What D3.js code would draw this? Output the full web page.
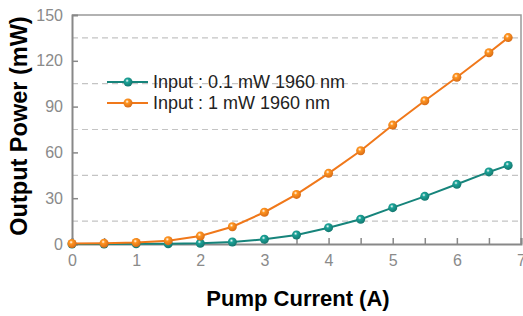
<!DOCTYPE html>
<html>
<head>
<meta charset="utf-8">
<script src="https://cdn.jsdelivr.net/npm/d3@7"></script>
<style>
  body { margin: 0; background: #fff; }
  text { font-family: "Liberation Sans", Arial, sans-serif; }
</style>
</head>
<body>
<div id="chart"></div>
<script>
const current = [0, 0.5, 1, 1.5, 2, 2.5, 3, 3.5, 4, 4.5, 5, 5.5, 6, 6.5, 6.8];
const lowInput = [0, 0, 0.1, 0.2, 0.5, 1.3, 3.1, 5.9, 10.7, 16.2, 23.8, 31.2, 39.1, 47.2, 51.5];
const highInput = [0.3, 0.5, 1, 2.2, 5.2, 11.3, 20.8, 32.5, 46.3, 61.1, 77.9, 93.8, 109.2, 125.3, 135.2];
const seriesNames = ['Input : 0.1 mW 1960 nm', 'Input : 1 mW 1960 nm'];
const seriesColors = ['#16847b', '#f0781a'];
const xTicks = [0, 1, 2, 3, 4, 5, 6, 7];
const yTicks = [0, 30, 60, 90, 120, 150];
const gridLines = [15, 45, 75, 105, 135];

const W = 523, H = 316;
const margin = { top: 15, right: 2, bottom: 72, left: 72 };
const width = W - margin.left - margin.right;
const height = H - margin.top - margin.bottom;

const svg = d3.select('#chart').append('svg')
  .attr('width', W).attr('height', H);

const defs = svg.append('defs');
seriesColors.forEach((c, i) => {
  const g = defs.append('radialGradient').attr('id', 'ball' + i)
    .attr('cx', '40%').attr('cy', '35%').attr('r', '65%');
  g.append('stop').attr('offset', '0%').attr('stop-color', '#ffffff');
  g.append('stop').attr('offset', '30%').attr('stop-color', d3.color(c).brighter(0.6));
  g.append('stop').attr('offset', '100%').attr('stop-color', d3.color(c).darker(0.3));
});

const g = svg.append('g')
  .attr('transform', 'translate(' + margin.left + ',' + margin.top + ')');

const x = d3.scaleLinear().domain([0, 7]).range([0, width]);
const y = d3.scaleLinear().domain([0, 150]).range([height, 0]);

// dashed grid
g.selectAll('.grid').data(gridLines).enter().append('line')
  .attr('x1', 0).attr('x2', width)
  .attr('y1', d => y(d)).attr('y2', d => y(d))
  .attr('stroke', '#c4c4c4').attr('stroke-width', 1.2)
  .attr('stroke-dasharray', '6,4');

// frame
g.append('path')
  .attr('d', 'M0,0H' + width + 'V' + height)
  .attr('fill', 'none').attr('stroke', '#999').attr('stroke-width', 1.5);

// axes
const xAxis = g.append('g').attr('transform', 'translate(0,' + height + ')')
  .call(d3.axisBottom(x).tickValues(d3.range(0, 7.01, 0.5)).tickSize(-6).tickPadding(11)
    .tickFormat(d => xTicks.includes(d) ? d : ''));
const yAxis = g.append('g')
  .call(d3.axisLeft(y).tickValues(yTicks).tickSize(-6).tickPadding(9));
[xAxis, yAxis].forEach(a => {
  a.select('.domain').attr('stroke', '#888').attr('stroke-width', 2);
  a.selectAll('.tick line').attr('stroke', '#888').attr('stroke-width', 1.5);
  a.selectAll('.tick text').attr('fill', '#8a8a8a').style('font-size', '16px');
});
xAxis.selectAll('.tick text').attr('dy', '0.71em');
yAxis.selectAll('.tick').filter(d => d === 150).select('line').remove();

// series
const series = [lowInput, highInput];
const line = d3.line().x((d, i) => x(current[i])).y(d => y(d));
series.forEach((vals, s) => {
  g.append('path').datum(vals)
    .attr('d', line).attr('fill', 'none')
    .attr('stroke', seriesColors[s]).attr('stroke-width', 2);
  g.selectAll('.pt' + s).data(vals).enter().append('circle')
    .attr('cx', (d, i) => x(current[i])).attr('cy', d => y(d))
    .attr('r', 4.5).attr('fill', 'url(#ball' + s + ')');
});

// legend
const legend = g.append('g').attr('transform', 'translate(35,67)');
seriesNames.forEach((name, i) => {
  const row = legend.append('g').attr('transform', 'translate(0,' + (i * 21) + ')');
  row.append('line').attr('x1', 0).attr('x2', 41).attr('y1', 0).attr('y2', 0)
    .attr('stroke', seriesColors[i]).attr('stroke-width', 2);
  row.append('circle').attr('cx', 21).attr('cy', 0).attr('r', 4.5).attr('fill', 'url(#ball' + i + ')');
  row.append('text').attr('x', 46).attr('y', 0).attr('dy', '0.35em')
    .style('font-size', '18px').attr('fill', '#222').text(name);
});

// axis titles
svg.append('text')
  .attr('text-anchor', 'middle')
  .attr('x', 298).attr('y', 306)
  .style('font-size', '22px').style('font-weight', 'bold').attr('fill', '#000')
  .text('Pump Current (A)');
svg.append('text')
  .attr('transform', 'translate(27,126) rotate(-90)')
  .attr('text-anchor', 'middle')
  .style('font-size', '23.5px').style('font-weight', 'bold').attr('fill', '#000')
  .text('Output Power (mW)');
</script>
</body>
</html>
